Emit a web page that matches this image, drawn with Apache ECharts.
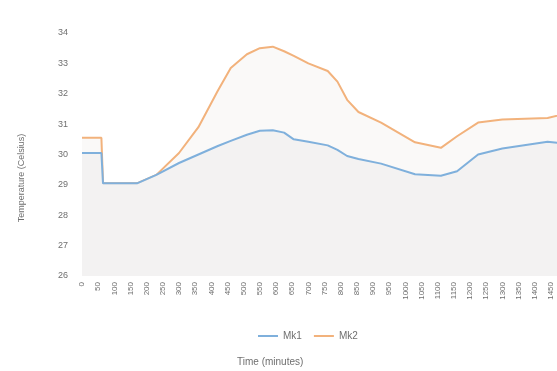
<!DOCTYPE html>
<html>
<head>
<meta charset="utf-8">
<script src="https://cdn.jsdelivr.net/npm/echarts@6/dist/echarts.min.js"></script>
<style>
  html, body { margin: 0; padding: 0; background: #ffffff; }
  #chart { width: 557px; height: 371px; }
</style>
</head>
<body>
<div id="chart"></div>
<script>
// Sample times (minutes) and measured temperatures (°C) for both probes
const times = [0, 60, 65, 170, 230, 300, 360, 420, 460, 510, 550, 590, 625, 655, 700, 760, 790, 820, 855, 925, 1030, 1110, 1160, 1225, 1300, 1440, 1500];
const mk1 = [30.05, 30.05, 29.05, 29.05, 29.33, 29.72, 30.0, 30.28, 30.45, 30.65, 30.78, 30.8, 30.72, 30.5, 30.42, 30.3, 30.15, 29.95, 29.85, 29.7, 29.35, 29.3, 29.45, 30.0, 30.2, 30.42, 30.35];
const mk2 = [30.55, 30.55, 29.05, 29.05, 29.33, 30.05, 30.9, 32.1, 32.85, 33.3, 33.5, 33.55, 33.4, 33.25, 33.0, 32.75, 32.4, 31.8, 31.4, 31.05, 30.4, 30.22, 30.6, 31.05, 31.15, 31.2, 31.35];
const seriesNames = ['Mk1', 'Mk2'];
const yTicks = { min: 26, max: 34, step: 1 };
const xTicks = { min: 0, max: 1500, step: 50 };
const xTitle = 'Time (minutes)';
const yTitle = 'Temperature (Celsius)';

const pairs = vals => times.map((t, i) => [t, vals[i]]);
const textColor = '#6f6f6f';
const font = 'Liberation Sans';

const chart = echarts.init(document.getElementById('chart'), null, { renderer: 'canvas' });
chart.setOption({
  animation: false,
  backgroundColor: '#ffffff',
  grid: { left: 82, right: -10, top: 33, bottom: 95, outerBoundsMode: 'none', containLabel: false },
  legend: {
    data: seriesNames,
    top: 326,
    left: 253,
    icon: 'rect',
    itemWidth: 20,
    itemHeight: 2,
    itemGap: 12,
    textStyle: { color: textColor, fontSize: 10, fontFamily: font }
  },
  graphic: [
    {
      type: 'text',
      left: 237,
      top: 357,
      style: { text: xTitle, fill: textColor, fontSize: 10, fontFamily: font }
    },
    {
      type: 'text',
      x: 22,
      y: 178,
      rotation: Math.PI / 2,
      style: { text: yTitle, fill: textColor, fontSize: 9, fontFamily: font, align: 'center', verticalAlign: 'middle' }
    }
  ],
  xAxis: {
    type: 'value',
    min: xTicks.min,
    max: xTicks.max,
    interval: xTicks.step,
    axisLine: { show: false },
    axisTick: { show: false },
    splitLine: { show: false },
    axisLabel: {
      rotate: 90, color: textColor, fontSize: 8, fontFamily: font, margin: 6,
      formatter: v => String(v)
    }
  },
  yAxis: {
    type: 'value',
    min: yTicks.min,
    max: yTicks.max,
    interval: yTicks.step,
    axisLine: { show: false },
    axisTick: { show: false },
    splitLine: { show: false },
    axisLabel: { color: textColor, fontSize: 9, fontFamily: font, margin: 14 }
  },
  series: [
    {
      name: seriesNames[1],
      type: 'line',
      data: pairs(mk2),
      showSymbol: false,
      lineStyle: { color: '#f2b27c', width: 2 },
      itemStyle: { color: '#f2b27c' },
      areaStyle: { color: '#f8f7f5', origin: 'start' },
      z: 2
    },
    {
      name: seriesNames[0],
      type: 'line',
      data: pairs(mk1),
      showSymbol: false,
      lineStyle: { color: '#7fb0dc', width: 2 },
      itemStyle: { color: '#7fb0dc' },
      areaStyle: { color: '#f0f0f0', origin: 'start' },
      z: 3
    }
  ]
});
</script>
</body>
</html>
